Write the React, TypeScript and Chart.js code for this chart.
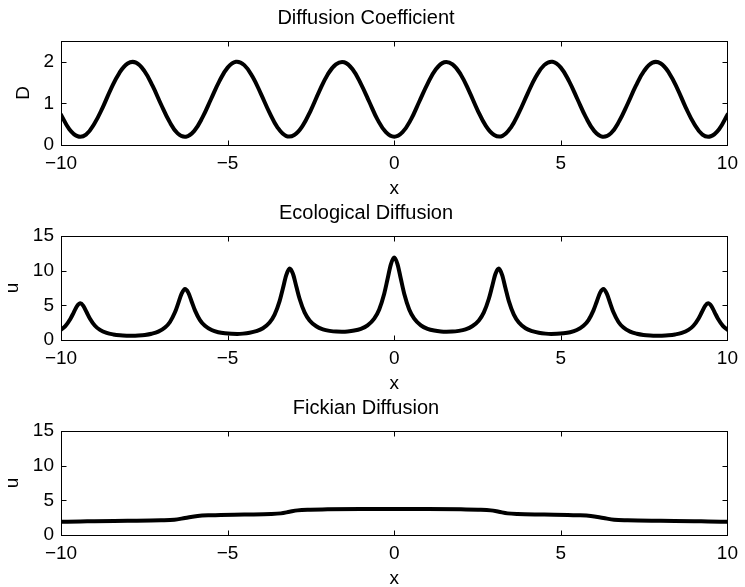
import React, { useEffect, useRef } from 'react';
import { Chart, registerables } from 'chart.js';

Chart.register(...registerables);

const FONT = "'Liberation Sans', Arial, Helvetica, sans-serif";

const titles = ['Diffusion Coefficient', 'Ecological Diffusion', 'Fickian Diffusion'];
const yLabels = ['D', 'u', 'u'];
const xLabel = 'x';
const xTicks = [-10, -5, 0, 5, 10];
const yTicksD = [0, 1, 2];
const yTicksU = [0, 5, 10, 15];

const xD = [
  -10, -9.75, -9.5, -9.25, -9, -8.75, -8.5, -8.25, -8, -7.75, -7.5, -7.25, -7, -6.75, -6.5, -6.25,
  -6, -5.75, -5.5, -5.25, -5, -4.75, -4.5, -4.25, -4, -3.75, -3.5, -3.25, -3, -2.75, -2.5, -2.25,
  -2, -1.75, -1.5, -1.25, -1, -0.75, -0.5, -0.25, 0, 0.25, 0.5, 0.75, 1, 1.25, 1.5, 1.75, 2, 2.25,
  2.5, 2.75, 3, 3.25, 3.5, 3.75, 4, 4.25, 4.5, 4.75, 5, 5.25, 5.5, 5.75, 6, 6.25, 6.5, 6.75, 7,
  7.25, 7.5, 7.75, 8, 8.25, 8.5, 8.75, 9, 9.25, 9.5, 9.75, 10,
];
const dValues = [
  0.73, 0.38, 0.21, 0.25, 0.51, 0.9, 1.35, 1.73, 1.96, 1.98, 1.78, 1.42, 0.98, 0.57, 0.28, 0.2,
  0.34, 0.67, 1.1, 1.53, 1.86, 2.0, 1.92, 1.64, 1.23, 0.79, 0.42, 0.22, 0.24, 0.46, 0.84, 1.29,
  1.69, 1.94, 1.99, 1.82, 1.47, 1.04, 0.61, 0.31, 0.2, 0.31, 0.61, 1.04, 1.47, 1.82, 1.99, 1.94,
  1.69, 1.29, 0.84, 0.46, 0.24, 0.22, 0.42, 0.79, 1.23, 1.64, 1.92, 2.0, 1.86, 1.53, 1.1, 0.67,
  0.34, 0.2, 0.28, 0.57, 0.98, 1.42, 1.78, 1.98, 1.96, 1.73, 1.35, 0.9, 0.51, 0.25, 0.21, 0.38, 0.73,
];

const xEco = [
  -10, -9.87, -9.72, -9.62, -9.52, -9.42, -9.33, -9.23, -9.13, -8.98, -8.83, -8.63, -8.43, -8.23,
  -8.03, -7.85, -7.68, -7.48, -7.28, -7.08, -6.88, -6.73, -6.58, -6.48, -6.38, -6.28, -6.18, -6.08,
  -5.98, -5.83, -5.68, -5.48, -5.28, -5.08, -4.88, -4.71, -4.54, -4.34, -4.14, -3.94, -3.74, -3.59,
  -3.44, -3.34, -3.24, -3.14, -3.04, -2.94, -2.84, -2.69, -2.54, -2.34, -2.14, -1.94, -1.74, -1.57,
  -1.4, -1.2, -1.0, -0.8, -0.6, -0.45, -0.3, -0.2, -0.1,
  0,
  0.1, 0.2, 0.3, 0.45, 0.6, 0.8, 1.0, 1.2, 1.4, 1.57, 1.74, 1.94, 2.14, 2.34, 2.54, 2.69, 2.84,
  2.94, 3.04, 3.14, 3.24, 3.34, 3.44, 3.59, 3.74, 3.94, 4.14, 4.34, 4.54, 4.71, 4.88, 5.08, 5.28,
  5.48, 5.68, 5.83, 5.98, 6.08, 6.18, 6.28, 6.38, 6.48, 6.58, 6.73, 6.88, 7.08, 7.28, 7.48, 7.68,
  7.85, 8.03, 8.23, 8.43, 8.63, 8.83, 8.98, 9.13, 9.23, 9.33, 9.42, 9.52, 9.62, 9.72, 9.87, 10,
];
const uEco = [
  1.5, 2.01, 3.03, 3.96, 4.89, 5.3, 4.92, 4.0, 3.07, 2.05, 1.46, 1.02, 0.8, 0.68, 0.63, 0.62,
  0.65, 0.73, 0.9, 1.2, 1.79, 2.6, 3.99, 5.32, 6.68, 7.35, 6.83, 5.56, 4.27, 2.87, 2.04, 1.44,
  1.12, 0.96, 0.89, 0.88, 0.92, 1.04, 1.27, 1.69, 2.51, 3.65, 5.61, 7.46, 9.36, 10.3, 9.55, 7.76,
  5.95, 3.99, 2.83, 1.98, 1.54, 1.32, 1.21, 1.2, 1.23, 1.36, 1.62, 2.12, 3.09, 4.41, 6.68, 8.79,
  10.92,
  11.9,
  10.92, 8.79, 6.68, 4.41, 3.09, 2.12, 1.62, 1.36, 1.23, 1.2, 1.21, 1.32, 1.54, 1.98, 2.83, 3.99,
  5.95, 7.76, 9.55, 10.3, 9.36, 7.46, 5.61, 3.65, 2.51, 1.69, 1.27, 1.04, 0.92, 0.88, 0.89, 0.96,
  1.12, 1.44, 2.04, 2.87, 4.27, 5.56, 6.83, 7.35, 6.68, 5.32, 3.99, 2.6, 1.79, 1.2, 0.9, 0.73,
  0.65, 0.62, 0.63, 0.68, 0.8, 1.02, 1.46, 2.05, 3.07, 4.0, 4.92, 5.3, 4.89, 3.96, 3.03, 2.01, 1.5,
];

const xFick = [
  -10, -9.42, -9, -8, -7, -6.6, -6.28, -5.9, -5.5, -4.5, -3.7, -3.4, -3.14, -2.9, -2.6, -2, -1,
  0, 1, 2, 2.6, 2.9, 3.14, 3.4, 3.7, 4.5, 5.5, 5.9, 6.28, 6.6, 7, 8, 9, 9.42, 10,
];
const uFick = [
  1.92, 1.95, 2.0, 2.05, 2.12, 2.2, 2.45, 2.75, 2.85, 2.95, 3.02, 3.12, 3.35, 3.55, 3.65, 3.7, 3.74,
  3.75, 3.74, 3.7, 3.65, 3.55, 3.35, 3.12, 3.02, 2.95, 2.85, 2.75, 2.45, 2.2, 2.12, 2.05, 2.0, 1.95, 1.92,
];

const fmt = (v: number | string) => {
  const n = Number(v);
  return n < 0 ? '\u2212' + Math.abs(n) : String(n);
};

const boxPlugin = {
  id: 'matlabBox',
  beforeDatasetsDraw(chart: any) {
    const { ctx, chartArea } = chart;
    const l = Math.floor(chartArea.left) + 0.5;
    const r = Math.floor(chartArea.right) + 0.5;
    const t = Math.floor(chartArea.top) + 0.5;
    const b = Math.floor(chartArea.bottom) + 0.5;
    const xs = chart.scales.x;
    const ys = chart.scales.y;
    const len = 5;
    ctx.save();
    ctx.strokeStyle = '#000';
    ctx.lineWidth = 1;
    ctx.strokeRect(l, t, r - l, b - t);
    ctx.beginPath();
    xs.ticks.forEach((tk: any) => {
      const px = Math.round(xs.getPixelForValue(tk.value)) + 0.5;
      ctx.moveTo(px, b);
      ctx.lineTo(px, b - len);
      ctx.moveTo(px, t);
      ctx.lineTo(px, t + len);
    });
    ys.ticks.forEach((tk: any) => {
      const py = Math.round(ys.getPixelForValue(tk.value)) + 0.5;
      ctx.moveTo(l, py);
      ctx.lineTo(l + len, py);
      ctx.moveTo(r, py);
      ctx.lineTo(r - len, py);
    });
    ctx.stroke();
    ctx.restore();
  },
};

type PanelProps = {
  xs: number[];
  ys: number[];
  title: string;
  yLabel: string;
  yMax: number;
  yTicks: number[];
  top: number;
  yTitlePad: number;
  smooth: 'default' | 'monotone';
};

function Panel({ xs, ys, title, yLabel, yMax, yTicks, top, yTitlePad, smooth }: PanelProps) {
  const ref = useRef<HTMLCanvasElement>(null);
  useEffect(() => {
    const tickFont = { family: FONT, size: 19 };
    const chart = new Chart(ref.current as HTMLCanvasElement, {
      type: 'line',
      data: {
        datasets: [
          {
            data: xs.map((x, i) => ({ x, y: ys[i] })),
            borderColor: '#000',
            borderWidth: 4,
            pointRadius: 0,
            fill: false,
            tension: 0.4,
            cubicInterpolationMode: smooth,
            borderJoinStyle: 'round',
            borderCapStyle: 'round',
          } as any,
        ],
      },
      options: {
        responsive: false,
        animation: false,
        devicePixelRatio: 1,
        events: [],
        layout: { padding: { left: 0, right: 13, top: 0, bottom: 0 } },
        plugins: {
          legend: { display: false },
          tooltip: { enabled: false },
          title: {
            display: true,
            text: title,
            color: '#000',
            font: { family: FONT, size: 20, weight: 'normal' },
            padding: { top: 6, bottom: 11 },
          },
        },
        scales: {
          x: {
            type: 'linear',
            min: -10,
            max: 10,
            afterBuildTicks: (s: any) => {
              s.ticks = xTicks.map((v) => ({ value: v }));
            },
            afterFit: (s: any) => {
              s.height = 55;
            },
            grid: { display: false, drawTicks: false },
            border: { display: false },
            ticks: {
              padding: 7,
              color: '#000',
              font: tickFont,
              maxRotation: 0,
              autoSkip: false,
              callback: fmt,
            },
            title: {
              display: true,
              text: xLabel,
              color: '#000',
              font: tickFont,
              padding: { top: 0, bottom: 0 },
            },
          },
          y: {
            min: 0,
            max: yMax,
            afterBuildTicks: (s: any) => {
              s.ticks = yTicks.map((v) => ({ value: v }));
            },
            afterFit: (s: any) => {
              s.width = 61;
            },
            grid: { display: false, drawTicks: false },
            border: { display: false },
            ticks: {
              padding: 7,
              color: '#000',
              font: tickFont,
              autoSkip: false,
              callback: fmt,
            },
            title: {
              display: true,
              text: yLabel,
              color: '#000',
              font: tickFont,
              padding: { top: yTitlePad, bottom: 0 },
            },
          },
        },
      } as any,
      plugins: [boxPlugin],
    });
    return () => chart.destroy();
  }, []);
  return (
    <canvas
      ref={ref}
      width={745}
      height={200}
      style={{ position: 'absolute', left: 0, top, width: 745, height: 200 }}
    />
  );
}

export default function App() {
  return (
    <div
      style={{
        position: 'absolute',
        left: 0,
        top: 0,
        width: 745,
        height: 587,
        overflow: 'hidden',
        background: '#fff',
      }}
    >
      <Panel xs={xD} ys={dValues} title={titles[0]} yLabel={yLabels[0]} yMax={2.5} yTicks={yTicksD} top={0} yTitlePad={12} smooth="default" />
      <Panel xs={xEco} ys={uEco} title={titles[1]} yLabel={yLabels[1]} yMax={15} yTicks={yTicksU} top={195} yTitlePad={1} smooth="monotone" />
      <Panel xs={xFick} ys={uFick} title={titles[2]} yLabel={yLabels[2]} yMax={15} yTicks={yTicksU} top={390} yTitlePad={1} smooth="monotone" />
    </div>
  );
}
